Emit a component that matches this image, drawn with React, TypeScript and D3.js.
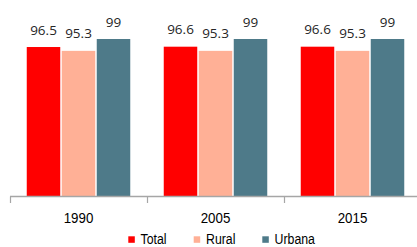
import React from "react";
import * as d3 from "d3";

const categories = ["1990", "2005", "2015"];
const seriesNames = ["Total", "Rural", "Urbana"];
const totalValues = [96.5, 96.6, 96.6];
const ruralValues = [95.3, 95.3, 95.3];
const urbanaValues = [99, 99, 99];
const seriesColors = ["#ff0000", "#ffb096", "#4e7a89"];

const W = 417;
const H = 247;

export default function App() {
  const series = [totalValues, ruralValues, urbanaValues];
  const x = d3.scaleBand<string>().domain(categories).range([10, 421]).padding(0);
  const bw = x.bandwidth();
  const inner = d3
    .scaleBand<string>()
    .domain(seriesNames)
    .range([16, bw - 16])
    .padding(0);
  const y = d3.scaleLinear().domain([50, 100]).range([196, 35.8]);
  const baseY = y(50);
  const fontNarrow = "'Liberation Sans', Arial, sans-serif";
  const legendX = [128.3, 193.7, 262.3];

  return (
    <svg
      width={W}
      height={H}
      style={{ position: "absolute", left: 0, top: 0, background: "#fff" }}
    >
      {categories.map((c, ci) =>
        seriesNames.map((s, si) => {
          const v = series[si][ci];
          const bx = (x(c) as number) + (inner(s) as number);
          return (
            <g key={c + s}>
              <rect
                x={bx + 0.75}
                y={y(v)}
                width={inner.bandwidth() - 1.5}
                height={baseY - y(v)}
                fill={seriesColors[si]}
              />
              <text
                x={bx + inner.bandwidth() / 2}
                y={y(v) - 12.5}
                textAnchor="middle"
                fontFamily="'Open Sans', sans-serif"
                fontSize={13.5}
                fill="#262626"
              >
                {String(v)}
              </text>
            </g>
          );
        })
      )}
      <line x1={10} x2={W} y1={196.5} y2={196.5} stroke="#a6a6a6" strokeWidth={1.5} />
      {categories.map((c) => (
        <line
          key={"t" + c}
          x1={(x(c) as number) + 0.5}
          x2={(x(c) as number) + 0.5}
          y1={196.5}
          y2={203}
          stroke="#a6a6a6"
          strokeWidth={1.2}
        />
      ))}
      {categories.map((c) => (
        <text
          key={"l" + c}
          transform={`translate(${(x(c) as number) + bw / 2},222.5) scale(0.86,1)`}
          textAnchor="middle"
          fontFamily={fontNarrow}
          fontSize={15.5}
          fill="#000"
        >
          {c}
        </text>
      ))}
      {seriesNames.map((s, i) => (
        <g key={"lg" + s}>
          <rect x={legendX[i]} y={236.3} width={6.5} height={6.5} fill={seriesColors[i]} />
          <text
            transform={`translate(${legendX[i] + 12.3},243.7) scale(0.85,1)`}
            fontFamily={fontNarrow}
            fontSize={14.5}
            fill="#000"
          >
            {s}
          </text>
        </g>
      ))}
    </svg>
  );
}
